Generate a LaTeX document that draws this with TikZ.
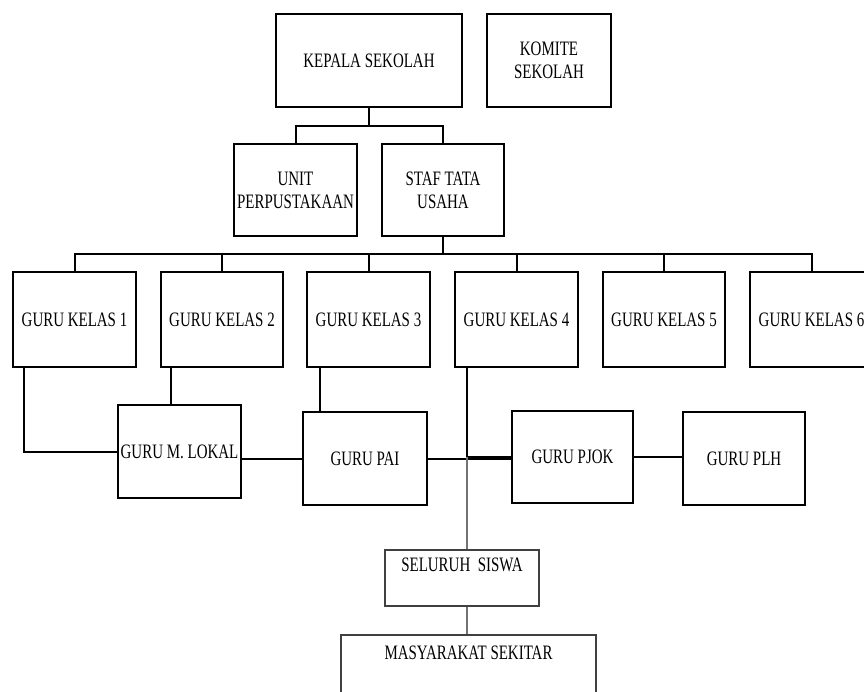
\documentclass[tikz,border=0pt]{standalone}
\usepackage{fontspec}
\newfontfamily\condserif[FakeStretch=0.73]{Liberation Serif}
\usetikzlibrary{calc}
\begin{document}
\begin{tikzpicture}[x=1pt,y=-1pt,
  box/.style={draw=black,line width=2pt,inner sep=0pt,align=center,
    font=\condserif\fontsize{20.5}{23}\selectfont},
  thinbox/.style={draw=black!75,line width=1.1pt,inner sep=0pt,align=center,
    font=\condserif\fontsize{20.5}{23}\selectfont},
  conn/.style={line width=2pt,draw=black},
  thinconn/.style={line width=1.1pt,draw=black!55}]
\useasboundingbox (0,0) rectangle (864,691);
\clip (0,0) rectangle (864,691);
% top
\node[box,minimum width=186pt,minimum height=93pt] (kepala) at (369,60.5) {KEPALA SEKOLAH};
\node[box,minimum width=124pt,minimum height=93pt] (komite) at (549,60.5) {KOMITE\\SEKOLAH};
\node[box,minimum width=123pt,minimum height=92pt] (unit) at (295.5,190) {UNIT\\PERPUSTAKAAN};
\node[box,minimum width=122pt,minimum height=92pt] (staf) at (443,190) {STAF TATA\\USAHA};
% guru kelas
\node[box,minimum width=123pt,minimum height=95pt] (gk1) at (74.5,319.5) {GURU KELAS 1};
\node[box,minimum width=122pt,minimum height=95pt] (gk2) at (222,319.5) {GURU KELAS 2};
\node[box,minimum width=123pt,minimum height=95pt] (gk3) at (368.5,319.5) {GURU KELAS 3};
\node[box,minimum width=123pt,minimum height=95pt] (gk4) at (516.5,319.5) {GURU KELAS 4};
\node[box,minimum width=122pt,minimum height=95pt] (gk5) at (664,319.5) {GURU KELAS 5};
\node[box,minimum width=123pt,minimum height=95pt] (gk6) at (811.5,319.5) {GURU KELAS 6};
% second row
\node[box,minimum width=123pt,minimum height=93pt] (gml) at (179.5,451.5) {GURU M. LOKAL};
\node[box,minimum width=124pt,minimum height=93pt] (pai) at (365,458.5) {GURU PAI};
\node[box,minimum width=121pt,minimum height=92pt] (pjok) at (572.5,457) {GURU PJOK};
\node[box,minimum width=122pt,minimum height=93pt] (plh) at (744,458.5) {GURU PLH};
% bottom
\node[thinbox,minimum width=154pt,minimum height=56pt,
  label={[anchor=north,inner sep=0pt,yshift=-6pt,font=\condserif\fontsize{20.5}{23}\selectfont]north:\strut SELURUH\ \ SISWA}] (siswa) at (462,578) {};
\node[thinbox,minimum width=255pt,minimum height=80pt,
  label={[anchor=north,inner sep=0pt,yshift=-9pt,font=\condserif\fontsize{20.5}{23}\selectfont]north:\strut MASYARAKAT SEKITAR}] (masy) at (468.5,675) {};
% connectors top
\coordinate (k1) at ($(kepala.south)+(0,18)$);
\draw[conn] (kepala.south) -- (k1);
\draw[conn] (unit.north) |- (k1) -| (staf.north);
\coordinate (s1) at ($(staf.south)+(0,17)$);
\draw[conn] (staf.south) -- (s1);
\draw[conn] (gk1.north) |- (s1) -| (gk6.north);
\foreach \g in {gk2,gk3,gk4,gk5}{\draw[conn] (\g.north) -- (\g.north |- s1);}
% second row connectors
\coordinate (a1) at ([xshift=12pt]gk1.south west);
\draw[conn] (a1) |- (gml.west);
\coordinate (a2) at ([xshift=11pt]gk2.south west);
\draw[conn] (a2) -- (a2 |- gml.north);
\draw[conn] (pai.west) -- (pai.west -| gml.east);
\coordinate (a3) at ([xshift=14pt]gk3.south west);
\draw[conn] (a3) -- (a3 |- pai.north);
\draw[conn] (pai.east) -- (pai.east -| pjok.west);
\coordinate (a4) at ([xshift=13pt]gk4.south west);
\coordinate (a4b) at (a4 |- pjok.west);
\draw[conn] (a4) -- (a4b);
\draw[conn,line width=3pt] (a4b) -- (pjok.west);
\draw[thinconn] (a4b) -- (a4b |- siswa.north);
\draw[conn] (pjok.east) -- (pjok.east -| plh.west);
\draw[thinconn] (a4b |- siswa.south) -- (a4b |- masy.north);
\end{tikzpicture}
\end{document}
